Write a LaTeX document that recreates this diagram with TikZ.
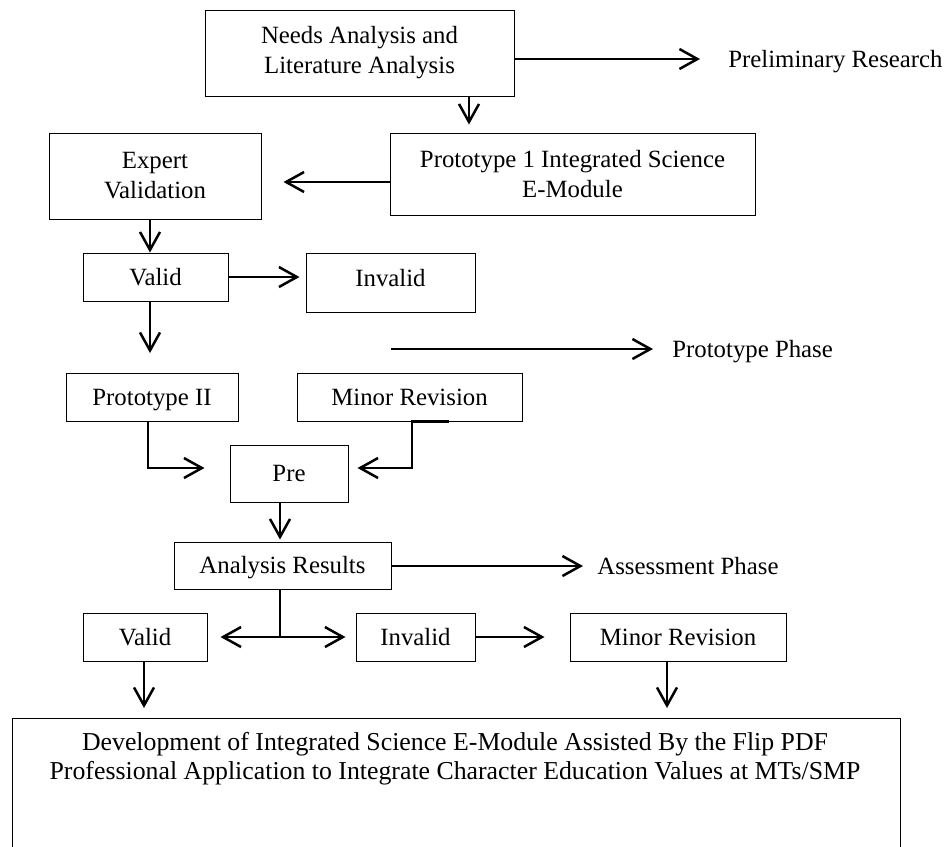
\documentclass[tikz,border=0pt]{standalone}
\usepackage{fontspec}
\setmainfont{Liberation Serif}
\usetikzlibrary{arrows.meta}
\newcommand\mainfs{\fontsize{12.4pt}{15pt}\selectfont}
\newcommand\finalfs{\fontsize{12.9pt}{14.6pt}\selectfont}
\tikzset{
  box/.style={draw, line width=0.5pt, inner sep=0pt, align=center, font=\mainfs},
  one/.style={text height=8.6pt, text depth=0.6pt},
  arr/.style={-{Straight Barb[length=9pt,width=10pt]}, line width=1.25pt},
  plain/.style={line width=0.6pt},
  lbl/.style={anchor=west, inner sep=0pt, font=\mainfs, text height=8.6pt, text depth=0.6pt},
  txt/.style={inner sep=0pt, align=center, font=\finalfs}
}
\begin{document}
\begin{tikzpicture}[x=0.5pt,y=-0.5pt]
\useasboundingbox (0,0) rectangle (950,847);
\clip (0,0) rectangle (950,847);
% boxes
\node[box, minimum width=154.5pt, minimum height=43pt] (needs) at (359.5,53) {Needs Analysis and\\Literature Analysis};
\node[box, minimum width=182.5pt, minimum height=41pt] (proto1) at (572.5,174) {Prototype 1 Integrated Science\\E-Module};
\node[box, minimum width=106pt, minimum height=43pt] (expert) at (155,176) {Expert\\Validation};
\node[box, one, minimum width=72.5pt, minimum height=24pt] (valid1) at (155.5,277) {Valid};
\node[box, minimum width=84.5pt, minimum height=29.5pt, text height=8.6pt, text depth=5.1pt] (invalid1) at (390.5,282.5) {Invalid};
\node[box, one, minimum width=86pt, minimum height=24pt] (proto2) at (152,397) {Prototype II};
\node[box, one, minimum width=112.5pt, minimum height=24pt] (minor1) at (409.5,397) {Minor Revision};
\node[box, one, minimum width=59pt, minimum height=28.5pt] (pre) at (289,473.5) {Pre};
\node[box, one, minimum width=108.5pt, minimum height=23.5pt] (analysis) at (282.5,565.5) {Analysis Results};
\node[box, one, minimum width=62pt, minimum height=24pt] (valid2) at (145,637) {Valid};
\node[box, one, minimum width=59.5pt, minimum height=24pt] (invalid2) at (415.5,637) {Invalid};
\node[box, one, minimum width=108pt, minimum height=24pt] (minor2) at (678,637) {Minor Revision};
\node[box, anchor=north, minimum width=444pt, minimum height=80pt] (final) at (456,718) {};
\node[txt] (finaltext) at (455,758.5) {Development of Integrated Science E-Module Assisted By the Flip PDF\\Professional Application to Integrate Character Education Values at MTs/SMP};
% side labels
\node[lbl] (prelim) at (728,59) {Preliminary Research};
\node[lbl] (protophase) at (672,349) {Prototype Phase};
\node[lbl] (assess) at (597,566) {Assessment Phase};
% helper coordinates
\coordinate (a1) at (469,0);
\coordinate (a2) at (0,182);
\coordinate (a3) at (150,0);
\coordinate (a4) at (150,353);
\coordinate (pp1) at (391,349);
\coordinate (a5) at (148,0);
\coordinate (a6) at (0,468);
\coordinate (a7) at (449,0);
\coordinate (a8) at (412,0);
\coordinate (a9) at (280,0);
\coordinate (a10) at (280,637);
\coordinate (a11) at (144,0);
\coordinate (a12) at (667,0);
% connectors
\draw[arr, shorten >=14pt] (needs.east |- prelim.west) -- (prelim.west);
\draw[arr, shorten >=4pt] (needs.south -| a1) -- (proto1.north -| a1);
\draw[arr, shorten >=11pt] (proto1.west |- a2) -- (expert.east |- a2);
\draw[arr] (expert.south -| a3) -- (valid1.north -| a3);
\draw[arr, shorten >=3pt] (valid1.east) -- (invalid1.west |- valid1.east);
\draw[arr] (valid1.south -| a3) -- (a4);
\draw[arr, shorten >=9.5pt] (pp1) -- (protophase.west);
\draw[arr, shorten >=12.5pt] (proto2.south -| a5) |- (pre.west |- a6);
\draw[arr, shorten >=4.5pt] (minor1.south -| a7) -- (minor1.south -| a8) |- (pre.east |- a6);
\draw[arr, shorten >=1pt] (pre.south -| a9) -- (analysis.north -| a9);
\draw[arr, shorten >=7pt] (analysis.east |- assess.west) -- (assess.west);
\draw[plain] (analysis.south -| a9) -- (a10);
\draw[arr, shorten >=6.5pt] (a10) -- (valid2.east);
\draw[arr, shorten >=5pt] (a10) -- (invalid2.west);
\draw[arr, shorten >=12.5pt] (invalid2.east) -- (minor2.west);
\draw[arr, shorten >=5pt] (valid2.south -| a11) -- (final.north -| a11);
\draw[arr, shorten >=5pt] (minor2.south -| a12) -- (final.north -| a12);
\end{tikzpicture}
\end{document}
